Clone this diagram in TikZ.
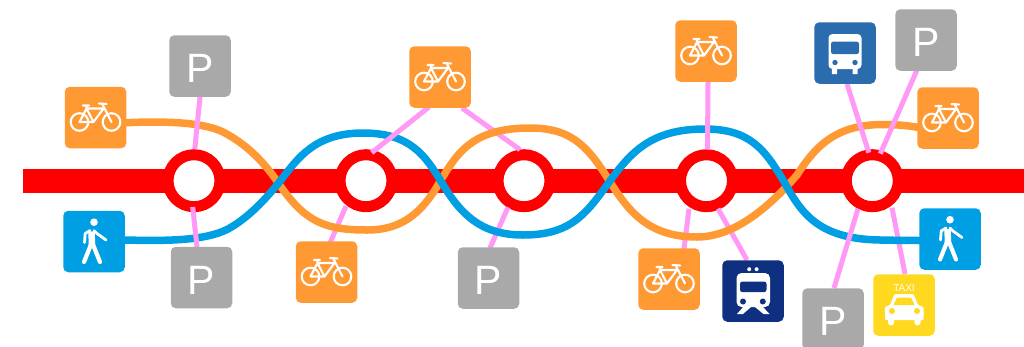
\documentclass[tikz,border=0pt]{standalone}
\usepackage{fontspec}
\setmainfont{Liberation Sans}
\definecolor{cOrange}{HTML}{FF9933}
\definecolor{cBlue}{HTML}{009FE3}
\definecolor{cGrey}{HTML}{A9A9A9}
\definecolor{cPink}{HTML}{FF99F5}
\definecolor{cTrain}{HTML}{0F2F80}
\definecolor{cBus}{HTML}{2B6CAE}
\definecolor{cTaxi}{HTML}{FFD820}
\tikzset{
  station/.style={circle,draw=red,fill=white,line width=11pt,minimum size=52pt,inner sep=0pt,outer sep=0pt},
  sign/.style={rectangle,rounded corners=5pt,minimum size=61.5pt,inner sep=0pt,outer sep=0pt,fill=#1,text=white},
  parking/.style={sign=cGrey,font=\fontsize{41}{41}\selectfont,text height=33pt,text depth=0pt},
  link/.style={cPink,line width=5pt},
  oline/.style={cOrange,line width=7.5pt},
  bline/.style={cBlue,line width=7.5pt},
  glyph/.style={white,line width=2.1pt,line join=round,line cap=round},
  pics/bike/.style={code={
    \draw[glyph] (-16,4.5) circle[radius=8.8] (16,4.5) circle[radius=8.8];
    \draw[glyph] (-16,4.5)--(-9,-9)--(-2,4.5)--cycle (-2,4.5)--(8,-9)--(-9,-9) (6.5,-14)--(16,4.5)
      (-12.5,-12)--(-6.5,-12) (-9,-12)--(-9,-9) (3.5,-14)--(11,-13.5);
  }},
  pics/walker/.style={code={
    \fill[white] (0,-19.3) circle[radius=3.8];
    \draw[white,line width=6.5pt] (-2.5,-10)--(-2,4);
    \draw[white,line width=4.2pt,line cap=round] (-3,3)--(-10,20.5) (-1,3)--(6,20.5);
    \draw[white,line width=2.8pt,line cap=round,line join=round] (-4,-11)--(-8.8,-8)--(-9.5,1) (0,-11)--(3,-8)--(12,-1.5);
  }},
  pics/trainicon/.style={code={
    \fill[white] (-3.8,-21.8) circle[radius=2] (3.6,-21.8) circle[radius=2];
    \fill[white,rounded corners=5pt] (-16.5,-18) rectangle (17,16);
    \fill[cTrain,rounded corners=2.5pt] (-13,-9.5) rectangle (13.5,1.2);
    \fill[cTrain] (-10,10.5) circle[radius=3] (9.8,10.5) circle[radius=3];
    \fill[white] (-9,15)--(-16,23)--(-10,23)--(-2,16)--cycle (9,15)--(16.5,23)--(10.5,23)--(2,16)--cycle;
  }},
  pics/busicon/.style={code={
    \fill[white,rounded corners=4pt] (-16.5,-19) rectangle (16.5,16);
    \fill[cBus,rounded corners=2.5pt] (-14,-11.5) rectangle (14,1.2);
    \fill[cBus] (-10,9.5) circle[radius=2.7] (10,9.5) circle[radius=2.7];
    \fill[white] (-13.2,15) rectangle (-8,21) (7.5,15) rectangle (12.7,21);
  }},
  pics/taxiicon/.style={code={
    \fill[white,rounded corners=1pt] (-9.5,-11)--(9.5,-11)--(14,0)--(19.5,2)--(19.5,15)--(-19,15)--(-19,2)--(-14,0)--cycle;
    \fill[cTaxi] (-7,-7.5)--(7,-7.5)--(10.5,0)--(-10.5,0)--cycle;
    \fill[cTaxi] (-12,6) circle[radius=3] (13,6) circle[radius=3];
    \fill[white] (-16,15) rectangle (-10,17.5) (10.5,15) rectangle (16.5,17.5);
    \fill[white] (-13,17.5) circle[radius=3] (13.5,17.5) circle[radius=3];
  }},
}
% link from sign #1 (offset #2,#3 in px, y down) to station #4 (offset #5,#6)
\newcommand{\lnk}[6]{\draw[link] ([xshift=#2pt,yshift=-#3pt]#1.center) -- ([xshift=#5pt,yshift=-#6pt]#4.center);}
\begin{document}
\begin{tikzpicture}[x=1pt,y=-1pt]
\useasboundingbox (0,0) rectangle (1024,346);
\coordinate (west) at (22.5,181);
\coordinate (east) at (1024,181);
\draw[red,line width=23.5pt] (west) -- (east);
\node[station] (s1) at (194,180.7) {};
\node[station] (s2) at (366,180.7) {};
\node[station] (s3) at (524,180.7) {};
\node[station] (s4) at (706.5,180.7) {};
\node[station] (s5) at (872.3,180.7) {};
\foreach \n/\x/\y in {bikeA/95.5/117.5,parkA/200/66,walkA/94/241.5,parkB/201.5/277.5,bikeB/326.5/272,
  bikeC/440/77,parkC/488.5/278,bikeD/706/51,bikeE/669/279,trainA/753/291,parkD/833/319,taxiA/904/305,
  walkB/950/239,bikeF/948/118,parkE/926/40,busA/845/53}
  \coordinate (\n) at (\x,\y);
% links under the coloured lines
\lnk{bikeC}{22}{31}{s3}{-4}{-31}
\lnk{parkC}{1.5}{-30}{s3}{-16}{26.5}
\lnk{bikeB}{3.5}{-29}{s2}{-20}{25.5}
\lnk{bikeE}{15}{-30}{s4}{-17.5}{28}
\lnk{trainA}{-6}{-31}{s4}{11.5}{28}
\lnk{taxiA}{1}{-31}{s5}{19.7}{27}
% coloured lines
\draw[oline] (126,122.7) .. controls (165,121) and (205,122) .. (225,133)
  .. controls (245,144) and (262,159) .. (279,184)
  .. controls (305,222) and (325,230) .. (367,230)
  .. controls (400,230) and (420,215) .. (438,185)
  .. controls (456,155) and (470,128) .. (530,128)
  .. controls (575,128) and (590,150) .. (612,185)
  .. controls (630,213) and (650,237) .. (697,237)
  .. controls (735,237) and (770,206) .. (797,175)
  .. controls (815,147) and (835,124.5) .. (883,124.5)
  .. controls (900,124.5) and (910,126) .. (922,128);
\draw[bline] (125,240) .. controls (165,241) and (205,241) .. (228,229)
  .. controls (248,218) and (265,200) .. (281,180)
  .. controls (298,158) and (315,133) .. (363,133)
  .. controls (410,133) and (425,155) .. (442,183)
  .. controls (460,213) and (480,235) .. (523,235)
  .. controls (570,235) and (585,215) .. (607,185)
  .. controls (630,153) and (650,129) .. (705,129)
  .. controls (750,129) and (765,150) .. (783,180)
  .. controls (800,210) and (815,239) .. (880,240)
  .. controls (895,240.3) and (910,240.5) .. (922,240.5);
% links over the coloured lines
\lnk{parkA}{0}{31}{s1}{0.8}{-31.6}
\lnk{parkB}{-4.5}{-30.5}{s1}{-1.3}{26.3}
\lnk{bikeC}{-11}{30}{s2}{5.7}{-28}
\lnk{bikeD}{2}{31}{s4}{1}{-31}
\lnk{busA}{2}{31}{s5}{-3.5}{-28}
\lnk{parkE}{-9}{30}{s5}{8}{-27}
\lnk{parkD}{1}{-31}{s5}{-14.3}{28}
% signs
\node[sign=cOrange] (nbikeA) at (bikeA) {};
\node[sign=cOrange] (nbikeB) at (bikeB) {};
\node[sign=cOrange] (nbikeC) at (bikeC) {};
\node[sign=cOrange] (nbikeD) at (bikeD) {};
\node[sign=cOrange] (nbikeE) at (bikeE) {};
\node[sign=cOrange] (nbikeF) at (bikeF) {};
\node[parking] (nparkA) at (parkA) {P};
\node[parking] (nparkB) at (parkB) {P};
\node[parking] (nparkC) at (parkC) {P};
\node[parking] (nparkD) at (parkD) {P};
\node[parking] (nparkE) at (parkE) {P};
\node[sign=cBlue] (nwalkA) at (walkA) {};
\node[sign=cBlue] (nwalkB) at (walkB) {};
\node[sign=cTrain] (ntrainA) at (trainA) {};
\node[sign=cBus] (nbusA) at (busA) {};
\node[sign=cTaxi] (ntaxiA) at (taxiA) {};
\foreach \n in {bikeA,bikeB,bikeC,bikeD,bikeE,bikeF} \path (\n) pic {bike};
\foreach \n in {walkA,walkB} \path (\n) pic {walker};
\path (trainA) pic {trainicon};
\path (busA) pic {busicon};
\path (taxiA) pic {taxiicon};
\node[text=white,font=\fontsize{10}{10}\selectfont,inner sep=0pt] (taxitext) at ([yshift=16.7pt]taxiA) {TAXI};
\end{tikzpicture}
\end{document}
